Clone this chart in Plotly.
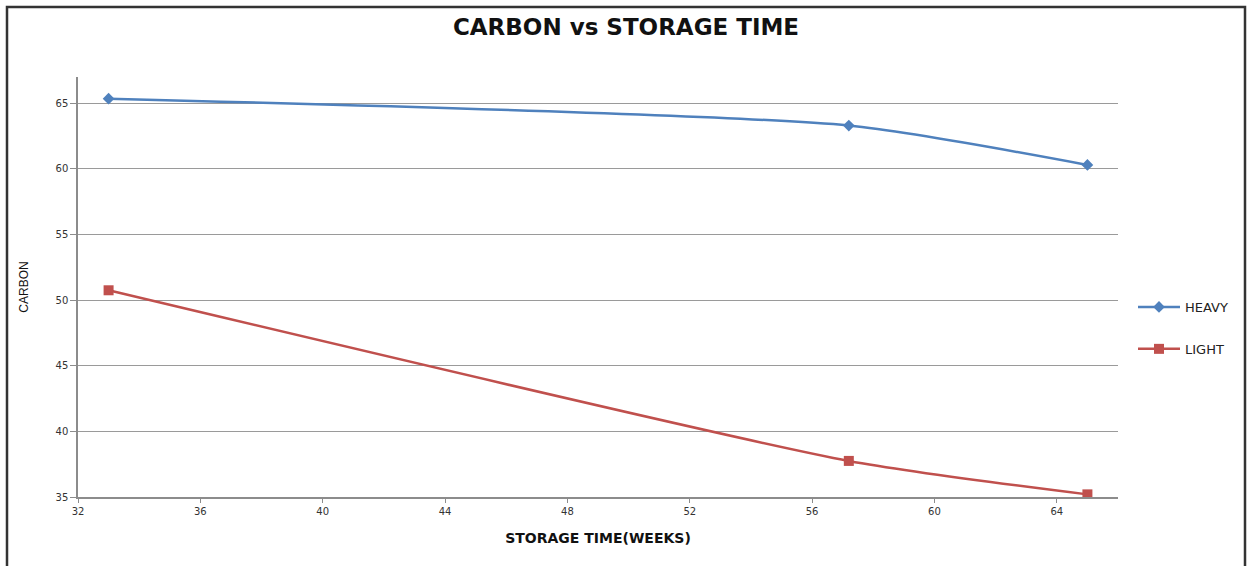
import plotly.graph_objects as go

weeks_heavy = [33, 57.2, 65]
carbon_heavy = [65.35, 63.3, 60.3]
weeks_light = [33, 57.2, 65]
carbon_light = [50.75, 37.75, 35.2]
x_ticks = [32, 36, 40, 44, 48, 52, 56, 60, 64]
y_ticks = [35, 40, 45, 50, 55, 60, 65]

fig = go.Figure()
fig.add_trace(go.Scatter(
    x=weeks_heavy, y=carbon_heavy, name="HEAVY", mode="lines+markers",
    line=dict(color="#4F81BD", width=2.5, shape="spline", smoothing=0.6),
    marker=dict(symbol="diamond", size=9, color="#4F81BD"),
    legendgroup="a",
))
fig.add_trace(go.Scatter(
    x=weeks_light, y=carbon_light, name="LIGHT", mode="lines+markers",
    line=dict(color="#C0504D", width=2.5, shape="spline", smoothing=0.6),
    marker=dict(symbol="square", size=10, color="#C0504D"),
    legendgroup="b",
))

L, R, T, B = 78, 135, 77, 69
W, H = 1253, 566
pw, ph = W - L - R, H - T - B

fig.update_layout(
    width=W, height=H,
    margin=dict(l=L, r=R, t=T, b=B, autoexpand=False),
    paper_bgcolor="white", plot_bgcolor="white",
    title=dict(text="<b>CARBON vs STORAGE TIME</b>", x=626 / W, xref="container",
               xanchor="center", y=1 - 27 / H, yanchor="middle",
               font=dict(family="DejaVu Sans, sans-serif", size=23, color="#111")),
    font=dict(family="DejaVu Sans, sans-serif", size=10, color="#222"),
    showlegend=True,
    legend=dict(x=1 + 15 / pw, y=(H - B - 292) / ph, xanchor="left", yanchor="top",
                tracegroupgap=22, itemwidth=42, font=dict(size=13, color="#222"),
                bgcolor="rgba(0,0,0,0)"),
    xaxis=dict(range=[32, 66], tickvals=x_ticks, showgrid=False, zeroline=False,
               showline=True, linecolor="#8c8c8c", linewidth=1.5,
               ticks="outside", ticklen=4, tickcolor="#8c8c8c",
               tickfont=dict(size=10, color="#333"),
               title=dict(text="<b>STORAGE TIME(WEEKS)</b>", standoff=17,
                          font=dict(family="DejaVu Sans, sans-serif", size=14, color="#111"))),
    yaxis=dict(range=[35, 67], tickvals=y_ticks, showgrid=True, gridcolor="#9a9a9a",
               gridwidth=1, zeroline=False, showline=True, linecolor="#8c8c8c",
               linewidth=1.5, ticks="outside", ticklen=6, tickcolor="#8c8c8c",
               tickfont=dict(size=10, color="#333"),
               title=dict(text="CARBON", standoff=24,
                          font=dict(family="Liberation Sans Narrow, Liberation Sans, sans-serif", size=12, color="#111"))),
)

# outer chart border
fig.add_shape(type="rect", xref="paper", yref="paper",
              x0=(7 - L) / pw, x1=(1245 - L) / pw,
              y0=(H - B - 575) / ph, y1=(H - B - 7) / ph,
              line=dict(color="#333", width=2.5), fillcolor="rgba(0,0,0,0)", layer="below")

fig.write_html("out.html")
